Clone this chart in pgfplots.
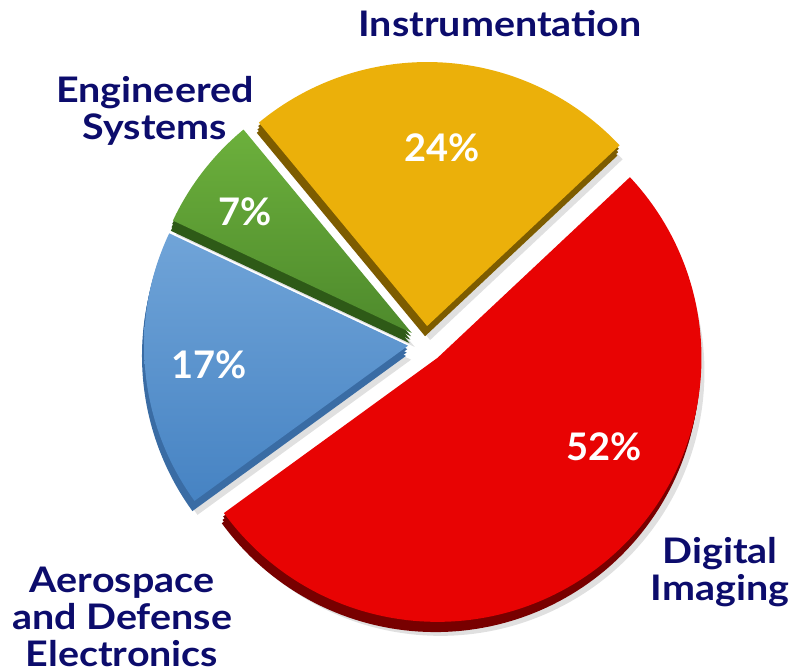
\documentclass[border=0pt]{standalone}
\usepackage{pgfplots}
\usepackage{pgfplotstable}
\pgfplotsset{compat=1.18}
\usepackage{fontspec}
\setmainfont{Lato}
\newfontfamily\labelfont{Lato}[FakeStretch=1.12]
\definecolor{navy}{RGB}{12,12,108}
\definecolor{ytop}{HTML}{EBB00A}
\definecolor{ydark}{HTML}{7D5C00}
\definecolor{gtop}{HTML}{6CB03C}
\definecolor{gbot}{HTML}{4E8A2C}
\definecolor{gdark}{HTML}{2E5A17}
\definecolor{btop}{HTML}{70A4D8}
\definecolor{bbot}{HTML}{4683C3}
\definecolor{bdark}{HTML}{3A6CA4}
\definecolor{rtop}{HTML}{E80303}
\definecolor{rdark}{HTML}{780000}

\pgfplotstableread{
seg pct
Instrumentation 24
Engineered 7
Aerospace 17
Digital 52
}\shares

\newcommand\R{264}
\newcommand\slice[5]{%
  \edef\tmp{\noexpand\addplot[#5, domain=#1:#2, samples=120, variable=\noexpand\t, forget plot]
   ({#3+\R*cos(\noexpand\t)},{#4+\R*sin(\noexpand\t)}) -- (axis cs:#3,#4) -- cycle;}\tmp}
\newcommand\sliceshift[7]{%
  \pgfmathsetmacro\tcx{#3+#5}\pgfmathsetmacro\tcy{#4+#6}\slice{#1}{#2}{\tcx}{\tcy}{#7}}

\begin{document}
\begin{tikzpicture}
\pgfplotstablegetelem{0}{pct}\of\shares \let\pInst\pgfplotsretval
\pgfplotstablegetelem{1}{pct}\of\shares \let\pEng\pgfplotsretval
\pgfplotstablegetelem{2}{pct}\of\shares \let\pAer\pgfplotsretval
\pgfplotstablegetelem{3}{pct}\of\shares \let\pDig\pgfplotsretval
\pgfmathsetmacro\sY{43.2}
\pgfmathsetmacro\eY{\sY+3.6*\pInst}
\pgfmathsetmacro\eG{\eY+3.6*\pEng}
\pgfmathsetmacro\eB{\eG+3.6*\pAer}
\pgfmathsetmacro\eR{\eB+3.6*\pDig}
% exploded centres (base centre 426,327; explode 18)
\pgfmathsetmacro\cxY{426+18*cos((\sY+\eY)/2)}\pgfmathsetmacro\cyY{327+18*sin((\sY+\eY)/2)}
\pgfmathsetmacro\cxG{426+18*cos((\eY+\eG)/2)}\pgfmathsetmacro\cyG{327+18*sin((\eY+\eG)/2)}
\pgfmathsetmacro\cxB{426+18*cos((\eG+\eB)/2)}\pgfmathsetmacro\cyB{327+18*sin((\eG+\eB)/2)}
\pgfmathsetmacro\cxR{426+18*cos((\eB+\eR)/2)}\pgfmathsetmacro\cyR{327+18*sin((\eB+\eR)/2)}
\begin{axis}[name=ax, x=0.5pt, y=0.5pt, xmin=0, xmax=796, ymin=0, ymax=671,
  hide axis, clip=false, scale only axis]
% soft shadows
\sliceshift{\sY}{\eY}{\cxY}{\cyY}{3}{-14}{draw=none, fill=black, fill opacity=0.12}
\sliceshift{\eY}{\eG}{\cxG}{\cyG}{3}{-14}{draw=none, fill=black, fill opacity=0.12}
\sliceshift{\eG}{\eB}{\cxB}{\cyB}{3}{-14}{draw=none, fill=black, fill opacity=0.12}
\sliceshift{\eB}{\eR}{\cxR}{\cyR}{3}{-14}{draw=none, fill=black, fill opacity=0.12}
% extrusions
\foreach \k in {1,2,3}{%
  \pgfmathsetmacro\dx{-0.7*\k}\pgfmathsetmacro\dy{-3.4*\k}%
  \sliceshift{\sY}{\eY}{\cxY}{\cyY}{\dx}{\dy}{draw=none, fill=ydark}
  \sliceshift{\eY}{\eG}{\cxG}{\cyG}{\dx}{\dy}{draw=none, fill=gdark}
  \sliceshift{\eG}{\eB}{\cxB}{\cyB}{\dx}{\dy}{draw=none, fill=bdark}
  \sliceshift{\eB}{\eR}{\cxR}{\cyR}{\dx}{\dy}{draw=none, fill=rdark}
}
% top faces
\slice{\sY}{\eY}{\cxY}{\cyY}{draw=none, fill=ytop}
\slice{\eY}{\eG}{\cxG}{\cyG}{draw=none, top color=gtop, bottom color=gbot}
\slice{\eG}{\eB}{\cxB}{\cyB}{draw=none, top color=btop, bottom color=bbot}
\slice{\eB}{\eR}{\cxR}{\cyR}{draw=none, fill=rtop}
% percentages
\begin{scope}[every node/.style={text=white, font=\fontsize{19}{22}\selectfont\bfseries}]
\node at (axis cs:442,523) {24\%};
\node at (axis cs:245,459) {7\%};
\node at (axis cs:209,306) {17\%};
\node at (axis cs:604,224) {52\%};
\end{scope}
% category labels
\begin{scope}[every node/.style={text=navy, align=center, font=\labelfont\fontsize{17.6}{18.3}\selectfont\bfseries}]
\node at (axis cs:500,647) {Instrumentation};
\node at (axis cs:155,560) {Engineered\\Systems};
\node at (axis cs:122,54) {Aerospace\\and Defense\\Electronics};
\node at (axis cs:720,99) {Digital\\Imaging};
\end{scope}
\end{axis}
\pgfresetboundingbox
\useasboundingbox (ax.south west) rectangle (ax.north east);
\end{tikzpicture}
\end{document}
